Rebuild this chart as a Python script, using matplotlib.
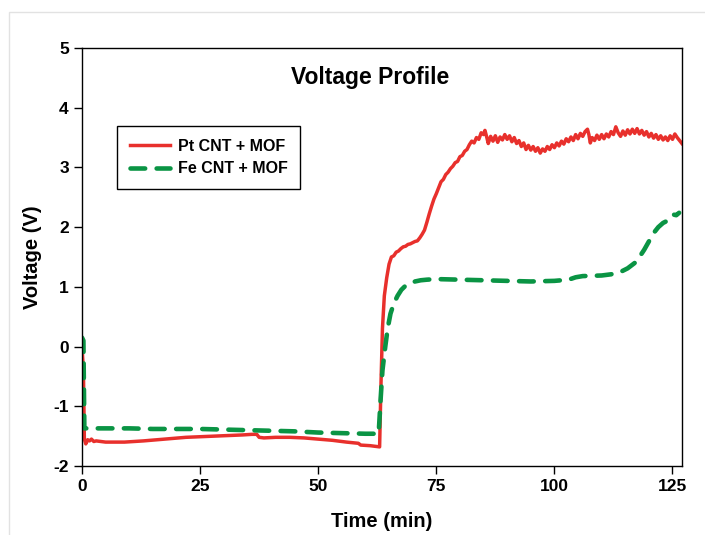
import matplotlib
matplotlib.use("Agg")
from matplotlib import pyplot as plt
from matplotlib import patches as mpatches

plt.rcParams["font.family"] = ["Liberation Sans", "DejaVu Sans"]
plt.rcParams["font.weight"] = "bold"
plt.rcParams["axes.unicode_minus"] = False

# Pt CNT + MOF (red, solid)
t_pt = [0.0, 0.3, 0.5, 0.8, 1.2, 1.6, 2.0, 2.5, 3, 5, 7, 9, 11, 13, 16, 19, 22, 25, 28, 31,
        34, 36, 37, 37.5, 38.5, 41, 44, 47, 50, 53, 56, 58.5, 59, 61, 63.0,
        63.3, 63.6, 64.0, 64.5, 65.0, 65.5, 66.0, 66.5, 67.0, 67.5, 68.0, 68.5, 69.0, 69.5,
        70.0, 70.5, 71.0, 71.5, 72.0, 72.5, 73.0, 73.5, 74.0, 74.5, 75.0, 75.5, 76.0, 76.5,
        77.0, 77.5, 78.0, 78.5, 79.0, 79.5, 80.0, 80.5, 81.0, 81.5,
        82.0, 82.5, 83.0, 83.5, 84.0, 84.5, 85.0, 85.3, 85.7, 86.0, 86.5, 87.0, 87.5, 88.0,
        88.5, 89.0, 89.5, 90.0, 90.5, 91.0, 91.5, 92.0, 92.5, 93.0, 93.5, 94.0, 94.5, 95.0,
        95.5, 96.0, 96.5, 97.0, 97.5, 98.0, 98.5, 99.0, 99.5, 100.0, 100.5, 101.0, 101.5,
        102.0, 102.5, 103.0, 103.5, 104.0, 104.5, 105.0, 105.5, 106.0, 106.5, 107.0, 107.3,
        107.6, 108.0, 108.5, 109.0, 109.5, 110.0, 110.5, 111.0, 111.5, 112.0, 112.5, 113.0,
        113.5, 114.0, 114.5, 115.0, 115.5, 116.0, 116.5, 117.0, 117.5, 118.0, 118.5, 119.0,
        119.5, 120.0, 120.5, 121.0, 121.5, 122.0, 122.5, 123.0, 123.5, 124.0, 124.5, 125.0,
        125.5, 126.0, 126.5, 127.0]
v_pt = [0.0, -0.4, -1.55, -1.63, -1.56, -1.58, -1.55, -1.59, -1.58, -1.60, -1.60, -1.60,
        -1.59, -1.58, -1.56, -1.54, -1.52, -1.51, -1.50, -1.49, -1.48, -1.47, -1.47, -1.52,
        -1.53, -1.52, -1.52, -1.53, -1.55, -1.57, -1.60, -1.62, -1.65, -1.66, -1.68,
        -0.6, 0.3, 0.85, 1.15, 1.38, 1.50, 1.52, 1.58, 1.60, 1.64, 1.67, 1.68, 1.71, 1.72,
        1.74, 1.76, 1.77, 1.82, 1.88, 1.95, 2.08, 2.22, 2.35, 2.47, 2.56, 2.66, 2.76, 2.80,
        2.88, 2.92, 2.98, 3.02, 3.08, 3.10, 3.18, 3.20, 3.27, 3.30,
        3.38, 3.44, 3.41, 3.50, 3.47, 3.58, 3.55, 3.62, 3.50, 3.40, 3.52, 3.44, 3.53, 3.42,
        3.51, 3.46, 3.55, 3.47, 3.53, 3.43, 3.50, 3.40, 3.45, 3.35, 3.41, 3.30, 3.37, 3.29,
        3.35, 3.27, 3.33, 3.24, 3.31, 3.27, 3.35, 3.30, 3.38, 3.33, 3.41, 3.36, 3.44,
        3.39, 3.48, 3.43, 3.51, 3.45, 3.55, 3.48, 3.57, 3.52, 3.60, 3.64, 3.55,
        3.41, 3.50, 3.45, 3.54, 3.47, 3.55, 3.48, 3.56, 3.51, 3.60, 3.55, 3.68,
        3.58, 3.52, 3.61, 3.54, 3.63, 3.56, 3.64, 3.57, 3.65, 3.56, 3.62, 3.54,
        3.60, 3.51, 3.57, 3.49, 3.55, 3.47, 3.53, 3.46, 3.51, 3.45, 3.53, 3.47,
        3.56, 3.50, 3.45, 3.40]

# Fe CNT + MOF (green, dashed)
t_fe = [0.0, 0.3, 0.5, 2, 5, 10, 15, 20, 25, 30, 35, 40, 45, 50, 55, 60, 62.8, 63.2, 63.6,
        64.2, 64.7, 65.3, 66.0, 66.8, 67.6, 68.5, 69.5, 70.5, 71.7, 73, 75, 80, 85, 90, 95,
        100, 103, 104.5, 106, 110, 112, 114, 115.5, 117, 118, 119, 120, 121, 122, 123, 124,
        124.7, 125.2, 125.8, 126.4]
v_fe = [0.15, 0.10, -1.37, -1.37, -1.37, -1.37, -1.38, -1.38, -1.38, -1.39, -1.40, -1.41,
        -1.42, -1.44, -1.45, -1.46, -1.46, -0.9, -0.4, 0.0, 0.3, 0.55, 0.72, 0.85, 0.95,
        1.02, 1.06, 1.09, 1.11, 1.12, 1.13, 1.12, 1.11, 1.10, 1.09, 1.10, 1.12, 1.16, 1.18,
        1.19, 1.21, 1.25, 1.31, 1.40, 1.50, 1.62, 1.76, 1.90, 2.00, 2.07, 2.11, 2.15, 2.21,
        2.20, 2.24]

x_ticks = [0, 25, 50, 75, 100, 125]
y_ticks = [-2, -1, 0, 1, 2, 3, 4, 5]

fig = plt.figure(figsize=(7.05, 5.35), dpi=100)
ax = fig.add_axes([0.1163, 0.129, 0.851, 0.7813])

# faint outer frame of the original picture
fig.patches.append(mpatches.Rectangle((9 / 705, -0.1), 1.2, 1.1 - 12 / 535,
                                      transform=fig.transFigure, fill=False,
                                      edgecolor="#e2e2e2", linewidth=1.0))

ax.plot(t_pt, v_pt, color="#e8302c", linewidth=2.5, label="Pt CNT + MOF")
ax.plot(t_fe, v_fe, color="#0a9444", linewidth=3.3, linestyle=(0, (3.2, 2.5)),
        dash_capstyle="round", label="Fe CNT + MOF")

ax.set_xlim(0, 127)
ax.set_ylim(-2, 5)
ax.set_xticks(x_ticks)
ax.set_yticks(y_ticks)
ax.tick_params(direction="out", length=6, width=1.0, labelsize=12.5, top=False, right=False)
for lab in ax.get_xticklabels() + ax.get_yticklabels():
    lab.set_fontweight("bold")
for sp in ax.spines.values():
    sp.set_linewidth(1.0)

ax.set_xlabel("Time (min)", fontsize=14.5, fontweight="bold", labelpad=13)
ax.set_ylabel("Voltage (V)", fontsize=14.5, fontweight="bold", labelpad=8)
ax.text(0.48, 0.93, "Voltage Profile", transform=ax.transAxes, ha="center", va="center",
        fontsize=16.5, fontweight="bold")

leg = ax.legend(loc="upper left", bbox_to_anchor=(0.0583, 0.813), borderaxespad=0,
                fancybox=False, edgecolor="black", framealpha=1,
                handlelength=2.5, handletextpad=0.5, borderpad=0.8, labelspacing=0.45,
                prop={"weight": "bold", "size": 11.5})
leg.get_frame().set_linewidth(1.0)
for txt in leg.get_texts():
    txt.set_fontweight("bold")

fig.savefig("out.png", dpi=100)
